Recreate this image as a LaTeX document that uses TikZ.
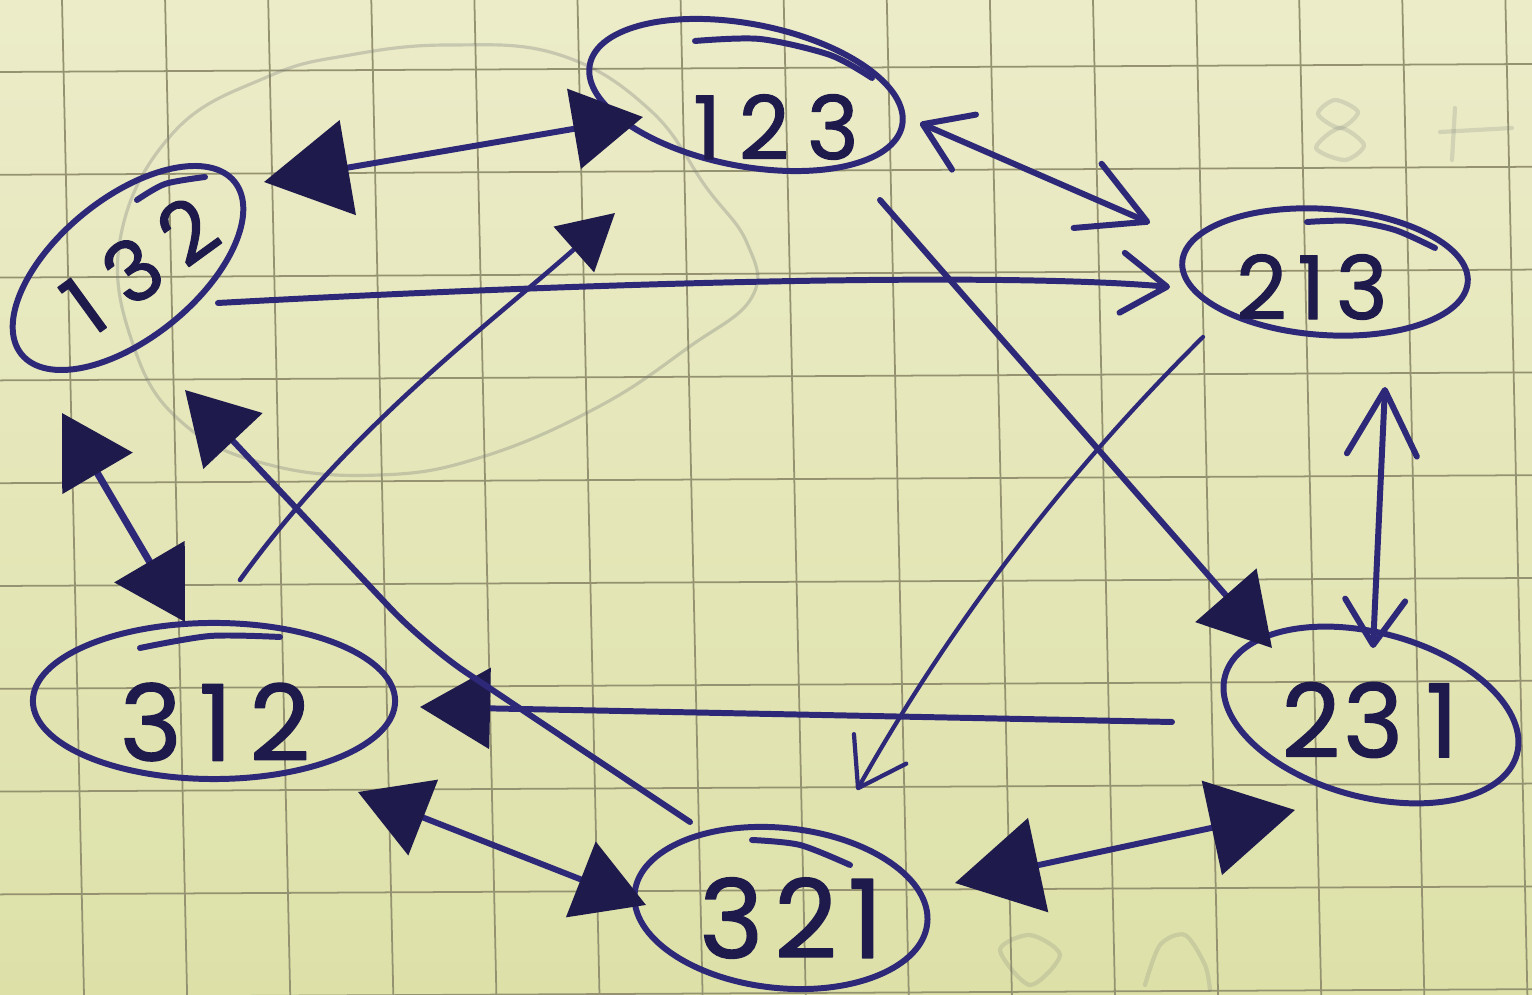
\documentclass[tikz,border=0pt]{standalone}
\usepackage{fontspec}
\setmainfont{Poppins}
\newfontfamily\handdigits[FakeBold=1.3]{Poppins}
\usetikzlibrary{arrows.meta,shapes.geometric}

\definecolor{paperTop}{RGB}{236,236,201}
\definecolor{paperBot}{RGB}{221,225,168}
\definecolor{gridcol}{RGB}{148,146,112}
\definecolor{ink}{RGB}{46,40,120}
\definecolor{inkdark}{RGB}{30,26,76}
\definecolor{pencil}{RGB}{115,118,118}

% hand-drawn arrow heads
\tikzset{
  inkTriS/.tip={Triangle[length=5.5mm,width=6mm,color=inkdark]},
  inkTri/.tip={Triangle[length=7mm,width=8mm,color=inkdark]},
  inkTriL/.tip={Triangle[length=8.5mm,width=9.5mm,color=inkdark]},
  inkBarb/.tip={Straight Barb[length=4.5mm,width=6mm,round]},
  inkBarbL/.tip={Straight Barb[length=6.5mm,width=7mm,round]},
}

\begin{document}
\begin{tikzpicture}[x=0.01cm, y=-0.01cm, line cap=round, line join=round,
  permnode/.style={draw=ink, line width=1.7pt, ellipse, inner sep=0pt},
  digits/.style={text=inkdark, font=\handdigits\fontsize{#1}{#1}\selectfont, inner sep=0pt},
  digits/.default=24,
  conn/.style={draw=ink, line width=1.7pt},
  inkline/.style={draw=ink, line width=1.7pt},
  gridl/.style={draw=gridcol, line width=0.5pt},
  ghost/.style={draw=pencil, line width=1.2pt, opacity=0.2},
]
\useasboundingbox (0,0) rectangle (1532,995);
\clip (0,0) rectangle (1532,995);

% paper and squared grid
\shade[top color=paperTop, bottom color=paperBot] (0,0) rectangle (1532,995);
\foreach \k in {0,...,14} {
  \draw[gridl] ({62+103.1*\k},0) -- ({84+103.1*\k},995);
}
\foreach \k in {0,...,9} {
  \draw[gridl] (0,{72+102.8*\k}) -- (1532,{64+102.8*\k});
}

% faint pencil loop
\draw[draw=pencil, line width=0.9pt, opacity=0.3]
  plot[smooth cycle, tension=0.7] coordinates {
    (120,240) (173,133) (267,77) (350,55) (450,45) (560,55) (650,110)
    (706,187) (747,243) (752,297) (689,347) (598,407) (482,457)
    (380,475) (270,465) (185,425) (135,350)};

% marks showing through the paper
\draw[ghost] plot[smooth cycle] coordinates {(1335,100) (1358,112) (1340,128) (1318,114)};
\draw[ghost] plot[smooth cycle] coordinates {(1340,128) (1364,145) (1345,160) (1316,148)};
\draw[ghost] (1455,108) -- (1452,160);
\draw[ghost] (1440,132) -- (1512,128);
\draw[ghost] plot[smooth cycle] coordinates {(1000,950) (1030,935) (1060,955) (1030,985)};
\draw[ghost] plot[smooth] coordinates {(1145,985) (1160,945) (1185,935) (1205,965) (1210,990)};

% permutation states
\node[permnode, minimum width=3.18cm, minimum height=1.42cm, rotate=-11] (n123) at (746,95) {};
\node[digits=25] (t123) at (776,127) {1\kern.2em2\kern.2em3};
\draw[inkline] plot[smooth] coordinates {(695,41) (760,39) (830,55) (872,78)};

\node[permnode, minimum width=2.74cm, minimum height=1.40cm, rotate=39] (n132) at (128,268) {};
\node[digits=24, rotate=36] (t132) at (140,265) {1\kern.26em3\kern.22em2};
\draw[inkline] plot[smooth] coordinates {(137,200) (165,184) (205,177)};

\node[permnode, minimum width=2.86cm, minimum height=1.26cm, rotate=-4] (n213) at (1325,272) {};
\node[digits=25] (t213) at (1312,287) {2\kern.12em1\kern.12em3};
\draw[inkline] plot[smooth] coordinates {(1307,222) (1350,221) (1395,230) (1435,248)};

\node[permnode, minimum width=3.62cm, minimum height=1.56cm] (n312) at (214,701) {};
\node[digits=30] (t312) at (215,722) {3\kern.16em1\kern.16em2};
\draw[inkline] plot[smooth] coordinates {(140,648) (210,636) (280,637)};

\node[permnode, minimum width=3.02cm, minimum height=1.64cm, rotate=-15] (n231) at (1371,715) {};
\node[digits=29] (t231) at (1370,720) {2\kern.03em3\kern.22em1};

\node[permnode, minimum width=2.94cm, minimum height=1.6cm, rotate=-6] (n321) at (781,908) {};
\node[digits=31] (t321) at (791,918) {3\kern.1em2\kern.1em1};
\draw[inkline] plot[smooth] coordinates {(752,840) (800,845) (850,865)};

% arrow end points beside the states
\coordinate (p132e) at (264,182);
\coordinate (p123w) at (643,117);
\coordinate (p123e) at (920,123);
\coordinate (p213nw) at (1150,223);
\coordinate (p132r) at (218,303);
\coordinate (p213w) at (1170,287);
\coordinate (p123se) at (880,200);
\coordinate (p231nw) at (1272,648);
\coordinate (p213sw) at (1203,337);
\coordinate (p321n) at (857,790);
\coordinate (p213s) at (1385,387);
\coordinate (p231n) at (1373,648);
\coordinate (p231w) at (1172,722);
\coordinate (p312e) at (420,707);
\coordinate (p321e) at (955,883);
\coordinate (p231sw) at (1295,810);
\coordinate (p312se) at (358,792);
\coordinate (p321w) at (646,905);
\coordinate (p321nw) at (690,822);
\coordinate (k10) at (425,645);
\coordinate (p132se) at (185,390);
\coordinate (p312n) at (185,622);
\coordinate (p132s) at (62,413);
\coordinate (p312ne) at (240,580);
\coordinate (p123sw) at (615,213);

% transitions
\draw[conn, inkTriL-inkTri] (p132e) -- (p123w);
\draw[conn, inkBarb-inkBarbL] (p123e) -- (p213nw);
\draw[conn, -inkBarb] (p132r) .. controls (600,282) and (1000,272) .. (p213w);
\draw[conn, -inkTri] (p123se) -- (p231nw);
\draw[conn, line width=1.2pt, -inkBarb] (p213sw) .. controls (1067,472) and (951,623) .. (p321n);
\draw[conn, inkBarbL-inkBarb] (p213s) -- (p231n);
\draw[conn, -inkTri] (p231w) -- (p312e);
\draw[conn, inkTriL-inkTriL] (p321e) -- (p231sw);
\draw[conn, inkTri-inkTri] (p312se) -- (p321w);
\draw[conn, rounded corners=5mm, -inkTri] (p321nw) -- (k10) -- (p132se);
\draw[conn, line width=2pt, inkTri-inkTri] (p312n) -- (p132s);
\draw[conn, line width=1.3pt, -inkTriS] (p312ne) .. controls (350,427) and (492,322) .. (p123sw);
\end{tikzpicture}
\end{document}
